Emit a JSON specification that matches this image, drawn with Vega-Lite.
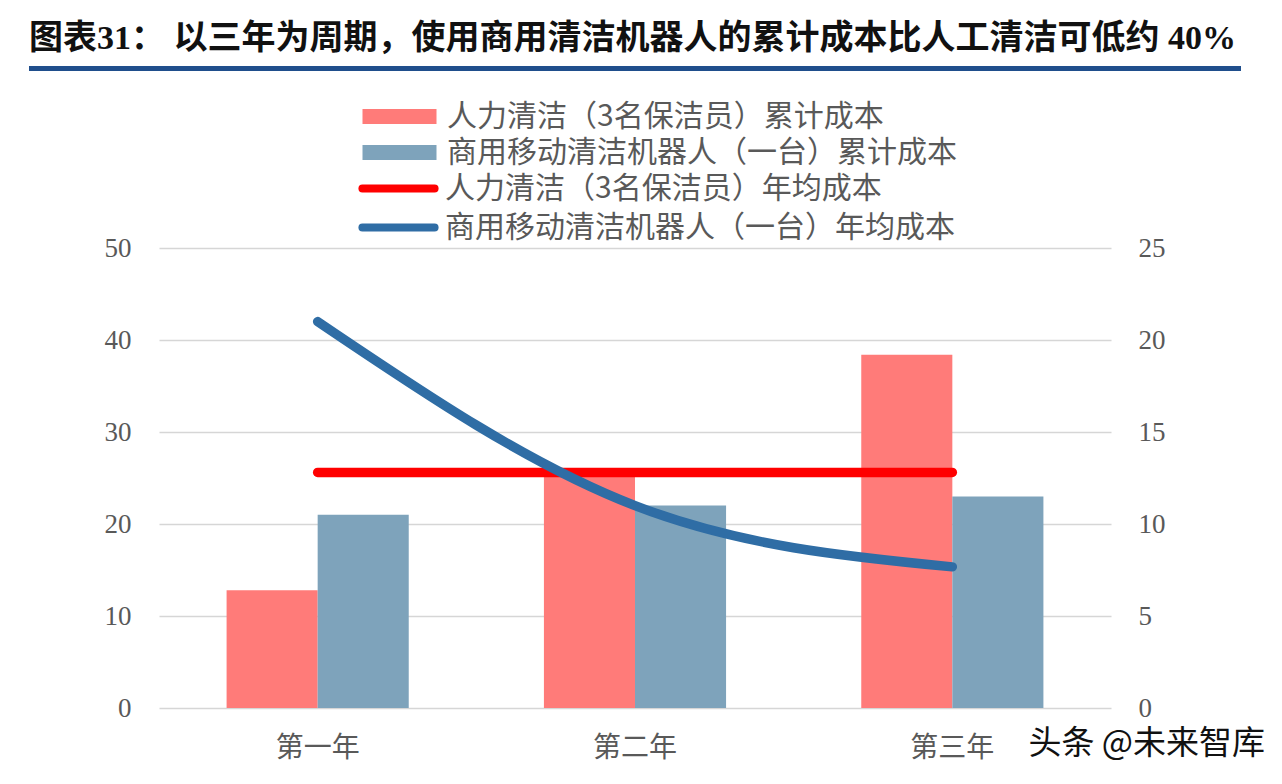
{
  "$schema": "https://vega.github.io/schema/vega-lite/v6.json",
  "padding": {"left": 28, "top": 22, "right": 5, "bottom": 5},
  "background": "white",
  "config": {"view": {"stroke": null}},
  "datasets": {
    "bars": [
      {"year": "第一年", "series": "人力清洁（3名保洁员）累计成本", "value": 12.8},
      {"year": "第一年", "series": "商用移动清洁机器人（一台）累计成本", "value": 21.0},
      {"year": "第二年", "series": "人力清洁（3名保洁员）累计成本", "value": 25.6},
      {"year": "第二年", "series": "商用移动清洁机器人（一台）累计成本", "value": 22.0},
      {"year": "第三年", "series": "人力清洁（3名保洁员）累计成本", "value": 38.4},
      {"year": "第三年", "series": "商用移动清洁机器人（一台）累计成本", "value": 23.0}
    ],
    "lines": [
      {"year": "第一年", "series": "人力清洁（3名保洁员）年均成本", "value": 12.8},
      {"year": "第二年", "series": "人力清洁（3名保洁员）年均成本", "value": 12.8},
      {"year": "第三年", "series": "人力清洁（3名保洁员）年均成本", "value": 12.8},
      {"year": "第一年", "series": "商用移动清洁机器人（一台）年均成本", "value": 21.0},
      {"year": "第二年", "series": "商用移动清洁机器人（一台）年均成本", "value": 11.0},
      {"year": "第三年", "series": "商用移动清洁机器人（一台）年均成本", "value": 7.67}
    ]
  },
  "vconcat": [
    {
      "width": 1082,
      "height": 5,
      "title": {
        "text": "图表31：  以三年为周期，使用商用清洁机器人的累计成本比人工清洁可低约 40%",
        "anchor": "start",
        "font": "Liberation Serif, Noto Sans CJK SC",
        "fontSize": 34,
        "fontWeight": "bold",
        "color": "#111111",
        "offset": 10
      },
      "data": {"values": [{"k": 1}]},
      "mark": {"type": "rect", "color": "#1F4E8C"},
      "encoding": {
        "x": {"datum": -0.12015, "type": "quantitative", "scale": {"domain": [0, 1]}, "axis": null},
        "x2": {"datum": 1},
        "y": {"datum": 0, "type": "quantitative", "scale": {"domain": [0, 1]}, "axis": null},
        "y2": {"datum": 1}
      }
    },
    {
      "width": 952,
      "height": 460,
      "title": {
        "text": "头条 @未来智库",
        "orient": "bottom",
        "anchor": "end",
        "font": "Noto Sans CJK SC",
        "fontSize": 33,
        "fontWeight": "normal",
        "color": "#111111",
        "dx": 100,
        "offset": -34
      },
      "layer": [
        {
          "data": {"name": "bars"},
          "mark": {"type": "bar"},
          "encoding": {
            "x": {
              "field": "year", "type": "nominal", "sort": ["第一年", "第二年", "第三年"],
              "scale": {"paddingInner": 0.426, "paddingOuter": 0.213},
              "axis": {"title": null, "domain": false, "ticks": false, "labelAngle": 0, "labelPadding": 26,
                       "labelFont": "Noto Sans CJK SC", "labelFontSize": 28, "labelColor": "#595959"}
            },
            "xOffset": {"field": "series", "type": "nominal",
                        "sort": ["人力清洁（3名保洁员）累计成本", "商用移动清洁机器人（一台）累计成本"],
                        "scale": {"paddingInner": 0, "paddingOuter": 0}},
            "y": {
              "field": "value", "type": "quantitative",
              "scale": {"domain": [0, 50], "nice": false},
              "axis": {"title": null, "orient": "left", "values": [0, 10, 20, 30, 40, 50], "domain": false, "ticks": false,
                       "grid": true, "gridColor": "#d6d6d6", "gridWidth": 1.5, "labelPadding": 28, "minExtent": 130,
                       "labelFont": "Liberation Serif", "labelFontSize": 27, "labelColor": "#595959"}
            },
            "fill": {
              "field": "series", "type": "nominal",
              "scale": {
                "domain": ["人力清洁（3名保洁员）累计成本", "商用移动清洁机器人（一台）累计成本"],
                "range": ["#FF7B79", "#7EA3BB"]
              },
              "legend": {
                "title": null,
                "orient": "none",
                "legendX": 222,
                "legendY": 32,
                "direction": "vertical",
                "labelFont": "Noto Sans CJK SC",
                "labelFontSize": 30,
                "labelColor": "#595959",
                "labelLimit": 800,
                "labelOffset": 29,
                "symbolSize": 1369,
                "symbolType": "M-2,-0.4H2V0.4H-2Z",
                "symbolStrokeWidth": 0,
                "symbolOpacity": 1,
                "rowPadding": 2
              }
            }
          }
        },
        {
          "data": {"name": "lines"},
          "mark": {"type": "line", "interpolate": "monotone", "strokeWidth": 9.5, "strokeCap": "round"},
          "encoding": {
            "x": {"field": "year", "type": "nominal", "sort": ["第一年", "第二年", "第三年"]},
            "y": {
              "field": "value", "type": "quantitative",
              "scale": {"domain": [0, 25], "nice": false},
              "axis": {"title": null, "orient": "right", "values": [0, 5, 10, 15, 20, 25], "domain": false, "ticks": false,
                       "grid": false, "labelPadding": 27,
                       "labelFont": "Liberation Serif", "labelFontSize": 27, "labelColor": "#595959"}
            },
            "stroke": {
              "field": "series", "type": "nominal",
              "scale": {
                "domain": ["人力清洁（3名保洁员）年均成本", "商用移动清洁机器人（一台）年均成本"],
                "range": ["#FF0000", "#2F6DA5"]
              },
              "legend": {
                "title": null,
                "orient": "none",
                "legendX": 217,
                "legendY": 100,
                "direction": "vertical",
                "labelFont": "Noto Sans CJK SC",
                "labelFontSize": 30,
                "labelColor": "#595959",
                "labelLimit": 800,
                "labelOffset": 24,
                "symbolSize": 1369,
                "symbolType": "M-1.95,0H1.95",
                "symbolStrokeWidth": 8,
                "symbolOpacity": 1,
                "rowPadding": -9,
                "encode": {"symbols": {"update": {"strokeCap": {"value": "round"}}}}
              }
            }
          }
        }
      ],
      "resolve": {"scale": {"y": "independent"}}
    }
  ],
  "spacing": 163
}
